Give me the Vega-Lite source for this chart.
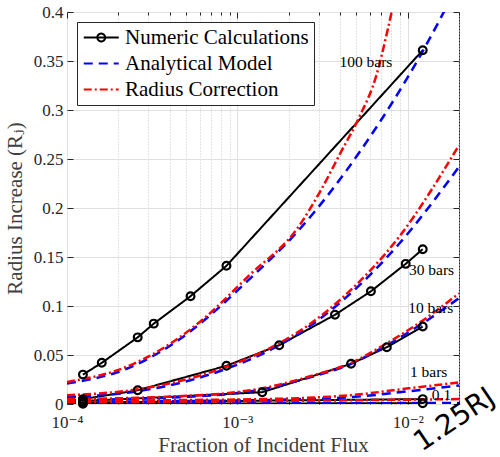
{
  "$schema": "https://vega.github.io/schema/vega-lite/v6.json",
  "width": 392,
  "height": 392,
  "autosize": "none",
  "padding": {"left": 67, "top": 12, "right": 41, "bottom": 53},
  "background": "white",
  "config": {
    "view": {"stroke": "#262626", "strokeWidth": 1},
    "axis": {
      "labelFont": "Liberation Serif, Times New Roman, DejaVu Serif, serif",
      "labelFontSize": 17,
      "labelColor": "#262626",
      "titleFont": "Liberation Serif, Times New Roman, DejaVu Serif, serif",
      "titleFontSize": 21,
      "titleFontWeight": "normal",
      "titleColor": "#404040",
      "tickColor": "#262626",
      "tickWidth": 1,
      "domain": false,
      "labelFlush": false,
      "gridColor": "#e0e0e0",
      "gridWidth": 1
    }
  },
  "datasets": {
    "numeric": [
      {"series": "Numeric Calculations", "group": "100", "x": 0.000124, "y": 0.030},
      {"series": "Numeric Calculations", "group": "100", "x": 0.00016, "y": 0.042},
      {"series": "Numeric Calculations", "group": "100", "x": 0.00026, "y": 0.068},
      {"series": "Numeric Calculations", "group": "100", "x": 0.000323, "y": 0.082},
      {"series": "Numeric Calculations", "group": "100", "x": 0.000531, "y": 0.110},
      {"series": "Numeric Calculations", "group": "100", "x": 0.000863, "y": 0.141},
      {"series": "Numeric Calculations", "group": "100", "x": 0.01225, "y": 0.361},
      {"series": "Numeric Calculations", "group": "30", "x": 0.000124, "y": 0.005},
      {"series": "Numeric Calculations", "group": "30", "x": 0.00026, "y": 0.014},
      {"series": "Numeric Calculations", "group": "30", "x": 0.000863, "y": 0.039},
      {"series": "Numeric Calculations", "group": "30", "x": 0.00176, "y": 0.060},
      {"series": "Numeric Calculations", "group": "30", "x": 0.00374, "y": 0.091},
      {"series": "Numeric Calculations", "group": "30", "x": 0.00608, "y": 0.115},
      {"series": "Numeric Calculations", "group": "30", "x": 0.00973, "y": 0.143},
      {"series": "Numeric Calculations", "group": "30", "x": 0.01225, "y": 0.158},
      {"series": "Numeric Calculations", "group": "10", "x": 0.000124, "y": 0.003},
      {"series": "Numeric Calculations", "group": "10", "x": 0.0014, "y": 0.012},
      {"series": "Numeric Calculations", "group": "10", "x": 0.00465, "y": 0.041},
      {"series": "Numeric Calculations", "group": "10", "x": 0.00754, "y": 0.058},
      {"series": "Numeric Calculations", "group": "10", "x": 0.01225, "y": 0.079},
      {"series": "Numeric Calculations", "group": "1", "x": 0.000124, "y": 0.0015},
      {"series": "Numeric Calculations", "group": "1", "x": 0.01225, "y": 0.005},
      {"series": "Numeric Calculations", "group": "0.1", "x": 0.000124, "y": 0.0003},
      {"series": "Numeric Calculations", "group": "0.1", "x": 0.01225, "y": 0.0008}
    ],
    "analytical": [
      {"series": "Analytical Model", "group": "100", "x": 0.0001, "y": 0.021},
      {"series": "Analytical Model", "group": "100", "x": 0.000224, "y": 0.036},
      {"series": "Analytical Model", "group": "100", "x": 0.000458, "y": 0.066},
      {"series": "Analytical Model", "group": "100", "x": 0.000624, "y": 0.084},
      {"series": "Analytical Model", "group": "100", "x": 0.00117, "y": 0.127},
      {"series": "Analytical Model", "group": "100", "x": 0.00231, "y": 0.178},
      {"series": "Analytical Model", "group": "100", "x": 0.00531, "y": 0.259},
      {"series": "Analytical Model", "group": "100", "x": 0.01225, "y": 0.360},
      {"series": "Analytical Model", "group": "100", "x": 0.02, "y": 0.430},
      {"series": "Analytical Model", "group": "30", "x": 0.0001, "y": 0.007},
      {"series": "Analytical Model", "group": "30", "x": 0.00026, "y": 0.013},
      {"series": "Analytical Model", "group": "30", "x": 0.000524, "y": 0.024},
      {"series": "Analytical Model", "group": "30", "x": 0.000863, "y": 0.036},
      {"series": "Analytical Model", "group": "30", "x": 0.00176, "y": 0.060},
      {"series": "Analytical Model", "group": "30", "x": 0.00264, "y": 0.079},
      {"series": "Analytical Model", "group": "30", "x": 0.00411, "y": 0.105},
      {"series": "Analytical Model", "group": "30", "x": 0.00885, "y": 0.163},
      {"series": "Analytical Model", "group": "30", "x": 0.02, "y": 0.242},
      {"series": "Analytical Model", "group": "10", "x": 0.0001, "y": 0.004},
      {"series": "Analytical Model", "group": "10", "x": 0.000458, "y": 0.007},
      {"series": "Analytical Model", "group": "10", "x": 0.000863, "y": 0.010},
      {"series": "Analytical Model", "group": "10", "x": 0.0014, "y": 0.015},
      {"series": "Analytical Model", "group": "10", "x": 0.00264, "y": 0.027},
      {"series": "Analytical Model", "group": "10", "x": 0.00465, "y": 0.041},
      {"series": "Analytical Model", "group": "10", "x": 0.00754, "y": 0.060},
      {"series": "Analytical Model", "group": "10", "x": 0.01291, "y": 0.085},
      {"series": "Analytical Model", "group": "10", "x": 0.02, "y": 0.108},
      {"series": "Analytical Model", "group": "1", "x": 0.0001, "y": 0.002},
      {"series": "Analytical Model", "group": "1", "x": 0.000458, "y": 0.003},
      {"series": "Analytical Model", "group": "1", "x": 0.0014, "y": 0.004},
      {"series": "Analytical Model", "group": "1", "x": 0.00231, "y": 0.005},
      {"series": "Analytical Model", "group": "1", "x": 0.00465, "y": 0.007},
      {"series": "Analytical Model", "group": "1", "x": 0.01014, "y": 0.013},
      {"series": "Analytical Model", "group": "1", "x": 0.02, "y": 0.019},
      {"series": "Analytical Model", "group": "0.1", "x": 0.0001, "y": 0.0005},
      {"series": "Analytical Model", "group": "0.1", "x": 0.0014, "y": 0.0007},
      {"series": "Analytical Model", "group": "0.1", "x": 0.02, "y": 0.001}
    ],
    "radius": [
      {"series": "Radius Correction", "group": "100", "x": 0.0001, "y": 0.0225},
      {"series": "Radius Correction", "group": "100", "x": 0.000224, "y": 0.038},
      {"series": "Radius Correction", "group": "100", "x": 0.000458, "y": 0.068},
      {"series": "Radius Correction", "group": "100", "x": 0.000624, "y": 0.086},
      {"series": "Radius Correction", "group": "100", "x": 0.00117, "y": 0.131},
      {"series": "Radius Correction", "group": "100", "x": 0.00231, "y": 0.182},
      {"series": "Radius Correction", "group": "100", "x": 0.00302, "y": 0.215},
      {"series": "Radius Correction", "group": "100", "x": 0.00411, "y": 0.259},
      {"series": "Radius Correction", "group": "100", "x": 0.00517, "y": 0.292},
      {"series": "Radius Correction", "group": "100", "x": 0.00659, "y": 0.337},
      {"series": "Radius Correction", "group": "100", "x": 0.00754, "y": 0.378},
      {"series": "Radius Correction", "group": "100", "x": 0.00805, "y": 0.400},
      {"series": "Radius Correction", "group": "100", "x": 0.00862, "y": 0.422},
      {"series": "Radius Correction", "group": "100", "x": 0.00923, "y": 0.445},
      {"series": "Radius Correction", "group": "30", "x": 0.0001, "y": 0.009},
      {"series": "Radius Correction", "group": "30", "x": 0.00026, "y": 0.015},
      {"series": "Radius Correction", "group": "30", "x": 0.000524, "y": 0.026},
      {"series": "Radius Correction", "group": "30", "x": 0.000863, "y": 0.038},
      {"series": "Radius Correction", "group": "30", "x": 0.00176, "y": 0.062},
      {"series": "Radius Correction", "group": "30", "x": 0.00264, "y": 0.081},
      {"series": "Radius Correction", "group": "30", "x": 0.00411, "y": 0.108},
      {"series": "Radius Correction", "group": "30", "x": 0.00885, "y": 0.170},
      {"series": "Radius Correction", "group": "30", "x": 0.02, "y": 0.264},
      {"series": "Radius Correction", "group": "10", "x": 0.0001, "y": 0.005},
      {"series": "Radius Correction", "group": "10", "x": 0.000458, "y": 0.008},
      {"series": "Radius Correction", "group": "10", "x": 0.000863, "y": 0.011},
      {"series": "Radius Correction", "group": "10", "x": 0.0014, "y": 0.016},
      {"series": "Radius Correction", "group": "10", "x": 0.00264, "y": 0.028},
      {"series": "Radius Correction", "group": "10", "x": 0.00465, "y": 0.042},
      {"series": "Radius Correction", "group": "10", "x": 0.00754, "y": 0.062},
      {"series": "Radius Correction", "group": "10", "x": 0.01291, "y": 0.088},
      {"series": "Radius Correction", "group": "10", "x": 0.02, "y": 0.113},
      {"series": "Radius Correction", "group": "1", "x": 0.0001, "y": 0.003},
      {"series": "Radius Correction", "group": "1", "x": 0.000458, "y": 0.004},
      {"series": "Radius Correction", "group": "1", "x": 0.0014, "y": 0.005},
      {"series": "Radius Correction", "group": "1", "x": 0.00231, "y": 0.006},
      {"series": "Radius Correction", "group": "1", "x": 0.00465, "y": 0.009},
      {"series": "Radius Correction", "group": "1", "x": 0.01014, "y": 0.016},
      {"series": "Radius Correction", "group": "1", "x": 0.02, "y": 0.022},
      {"series": "Radius Correction", "group": "0.1", "x": 0.0001, "y": 0.002},
      {"series": "Radius Correction", "group": "0.1", "x": 0.0014, "y": 0.003},
      {"series": "Radius Correction", "group": "0.1", "x": 0.02, "y": 0.005}
    ],
    "labels": [
      {"x": 0.00568, "y": 0.349, "label": "100 bars"},
      {"x": 0.0138, "y": 0.137, "label": "30 bars"},
      {"x": 0.01365, "y": 0.098, "label": "10 bars"},
      {"x": 0.01327, "y": 0.0327, "label": "1 bars"},
      {"x": 0.0158, "y": 0.009, "label": "0.1"}
    ],
    "stamp": [
      {"x": 0.0121, "y": -0.049, "label": "1.25RJ"}
    ]
  },
  "resolve": {"axis": {"x": "independent", "y": "independent"}},
  "layer": [
    {
      "data": {"name": "numeric"},
      "mark": {"type": "line", "strokeWidth": 2, "clip": true, "interpolate": "linear"},
      "encoding": {
        "x": {
          "field": "x", "type": "quantitative",
          "scale": {"type": "log", "domain": [0.0001, 0.02], "nice": false},
          "axis": {
            "orient": "bottom",
            "values": [0.0001, 0.001, 0.01],
            "labelExpr": "datum.value < 0.0005 ? '10⁻⁴' : datum.value < 0.005 ? '10⁻³' : '10⁻²'",
            "grid": true,
            "ticks": true,
            "tickSize": -6,
            "labelPadding": 16,
            "labelOverlap": false,
            "title": "Fraction of Incident Flux",
            "titlePadding": 4
          }
        },
        "y": {
          "field": "y", "type": "quantitative",
          "scale": {"domain": [0, 0.4], "nice": false, "zero": false},
          "axis": {
            "orient": "left",
            "values": [0, 0.05, 0.1, 0.15, 0.2, 0.25, 0.3, 0.35, 0.4],
            "labelExpr": "format(datum.value, '.2~f')",
            "grid": true,
            "ticks": true,
            "tickSize": -6,
            "labelPadding": 10,
            "labelOverlap": false,
            "title": "Radius Increase (Rⱼ)",
            "titlePadding": 8
          }
        },
        "detail": {"field": "group"},
        "color": {
          "field": "series", "type": "nominal",
          "scale": {"domain": ["Numeric Calculations", "Analytical Model", "Radius Correction"], "range": ["#000000", "#0000ff", "#ff0000"]},
          "legend": {
            "title": null,
            "orient": "top-left",
            "offset": 10,
            "fillColor": "white",
            "strokeColor": "#262626",
            "padding": 5,
            "rowPadding": 4,
            "labelFont": "Liberation Serif, Times New Roman, DejaVu Serif, serif",
            "labelFontSize": 21,
            "labelColor": "#000000",
            "labelLimit": 400,
            "labelOffset": 22,
            "symbolSize": 306,
            "symbolStrokeWidth": 2,
            "encode": {"symbols": {"update": {
              "shape": {"signal": "datum.value === 'Numeric Calculations' ? 'M-1,0H3M1.45,0A0.45,0.45 0 1 1 0.55,0A0.45,0.45 0 1 1 1.45,0' : 'M-1,0H3'"},
              "fill": {"value": "transparent"},
              "strokeWidth": {"value": 2}
            }}}
          }
        },
        "strokeDash": {
          "field": "series", "type": "nominal",
          "scale": {"domain": ["Numeric Calculations", "Analytical Model", "Radius Correction"], "range": [[1, 0], [9, 6], [8, 3, 2, 3]]},
          "legend": {
            "title": null,
            "orient": "top-left",
            "offset": 10,
            "fillColor": "white",
            "strokeColor": "#262626",
            "padding": 5,
            "rowPadding": 4,
            "labelFont": "Liberation Serif, Times New Roman, DejaVu Serif, serif",
            "labelFontSize": 21,
            "labelColor": "#000000",
            "labelLimit": 400,
            "labelOffset": 22,
            "symbolSize": 306,
            "symbolStrokeWidth": 2,
            "encode": {"symbols": {"update": {
              "shape": {"signal": "datum.value === 'Numeric Calculations' ? 'M-1,0H3M1.45,0A0.45,0.45 0 1 1 0.55,0A0.45,0.45 0 1 1 1.45,0' : 'M-1,0H3'"},
              "fill": {"value": "transparent"},
              "strokeWidth": {"value": 2}
            }}}
          }
        }
      }
    },
    {
      "data": {"name": "analytical"},
      "mark": {"type": "line", "strokeWidth": 2.5, "clip": true, "interpolate": "monotone"},
      "encoding": {
        "x": {
          "field": "x", "type": "quantitative",
          "scale": {"type": "log", "domain": [0.0001, 0.02], "nice": false},
          "axis": {
            "orient": "bottom",
            "values": [0.0002, 0.0003, 0.0004, 0.0005, 0.0006, 0.0007, 0.0008, 0.0009, 0.002, 0.003, 0.004, 0.005, 0.006, 0.007, 0.008, 0.009, 0.02],
            "labels": false,
            "grid": true,
            "gridColor": "#c8c8c8",
            "gridDash": [1, 2],
            "ticks": true,
            "tickSize": -3,
            "title": null
          }
        },
        "y": {
          "field": "y", "type": "quantitative",
          "scale": {"domain": [0, 0.4], "nice": false, "zero": false},
          "axis": {
            "orient": "right",
            "values": [0, 0.05, 0.1, 0.15, 0.2, 0.25, 0.3, 0.35, 0.4],
            "labels": false,
            "grid": false,
            "ticks": true,
            "tickSize": -6,
            "title": null
          }
        },
        "detail": {"field": "group"},
        "color": {"field": "series", "type": "nominal", "scale": {"domain": ["Numeric Calculations", "Analytical Model", "Radius Correction"], "range": ["#000000", "#0000ff", "#ff0000"]}},
        "strokeDash": {"field": "series", "type": "nominal", "scale": {"domain": ["Numeric Calculations", "Analytical Model", "Radius Correction"], "range": [[1, 0], [9, 6], [8, 3, 2, 3]]}}
      }
    },
    {
      "data": {"name": "radius"},
      "mark": {"type": "line", "strokeWidth": 2.5, "clip": true, "interpolate": "monotone"},
      "encoding": {
        "x": {
          "field": "x", "type": "quantitative",
          "scale": {"type": "log", "domain": [0.0001, 0.02], "nice": false},
          "axis": {
            "orient": "top",
            "values": [0.0001, 0.001, 0.01],
            "labels": false,
            "grid": false,
            "ticks": true,
            "tickSize": -6,
            "title": null
          }
        },
        "y": {
          "field": "y", "type": "quantitative",
          "scale": {"domain": [0, 0.4], "nice": false, "zero": false},
          "axis": null
        },
        "detail": {"field": "group"},
        "color": {"field": "series", "type": "nominal", "scale": {"domain": ["Numeric Calculations", "Analytical Model", "Radius Correction"], "range": ["#000000", "#0000ff", "#ff0000"]}},
        "strokeDash": {"field": "series", "type": "nominal", "scale": {"domain": ["Numeric Calculations", "Analytical Model", "Radius Correction"], "range": [[1, 0], [9, 6], [8, 3, 2, 3]]}}
      }
    },
    {
      "data": {"name": "numeric"},
      "mark": {"type": "point", "shape": "circle", "filled": false, "size": 60, "strokeWidth": 2.2, "color": "#000000", "opacity": 1},
      "encoding": {
        "x": {
          "field": "x", "type": "quantitative",
          "scale": {"type": "log", "domain": [0.0001, 0.02], "nice": false},
          "axis": {
            "orient": "top",
            "values": [0.0002, 0.0003, 0.0004, 0.0005, 0.0006, 0.0007, 0.0008, 0.0009, 0.002, 0.003, 0.004, 0.005, 0.006, 0.007, 0.008, 0.009, 0.02],
            "labels": false,
            "grid": false,
            "ticks": true,
            "tickSize": -3,
            "title": null
          }
        },
        "y": {
          "field": "y", "type": "quantitative",
          "scale": {"domain": [0, 0.4], "nice": false, "zero": false},
          "axis": null
        }
      }
    },
    {
      "data": {"name": "labels"},
      "mark": {"type": "text", "font": "Liberation Serif, Times New Roman, DejaVu Serif, serif", "fontSize": 15.5, "color": "#000000", "align": "center", "baseline": "middle"},
      "encoding": {
        "x": {"field": "x", "type": "quantitative", "scale": {"type": "log", "domain": [0.0001, 0.02], "nice": false}, "axis": null},
        "y": {"field": "y", "type": "quantitative", "scale": {"domain": [0, 0.4], "nice": false, "zero": false}, "axis": null},
        "text": {"field": "label"}
      }
    },
    {
      "data": {"name": "stamp"},
      "mark": {"type": "text", "font": "DejaVu Sans", "fontSize": 28, "color": "#000000", "align": "left", "baseline": "alphabetic", "angle": -34, "clip": false},
      "encoding": {
        "x": {"field": "x", "type": "quantitative", "scale": {"type": "log", "domain": [0.0001, 0.02], "nice": false}, "axis": null},
        "y": {"field": "y", "type": "quantitative", "scale": {"domain": [0, 0.4], "nice": false, "zero": false}, "axis": null},
        "text": {"field": "label"}
      }
    }
  ]
}
